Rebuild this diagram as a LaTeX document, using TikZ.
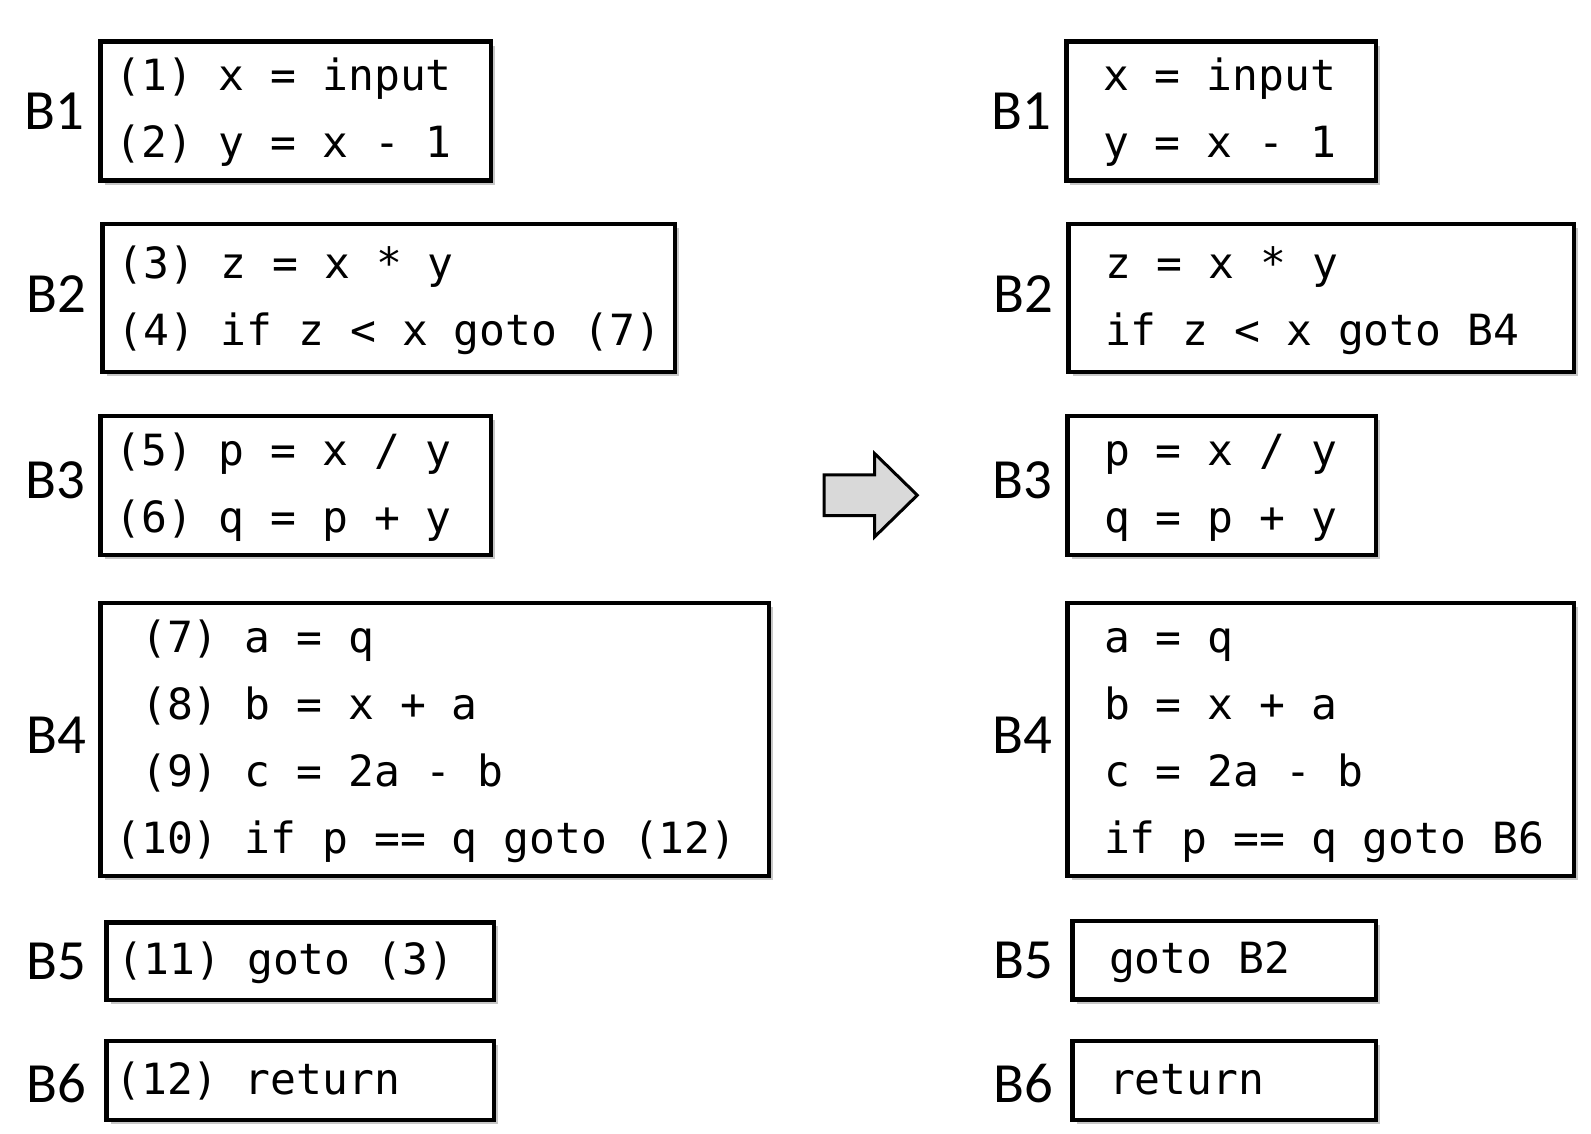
\documentclass[tikz,border=0pt]{standalone}
\usepackage{fontspec}
\setmonofont{DejaVu Sans Mono}
\newfontfamily\blockfont{Carlito}
\usetikzlibrary{positioning, shadows}
\tikzset{
x=0.5pt, y=-0.5pt, % one unit is one pixel of the layout, y grows downwards
block/.style={draw, line width=2.1pt, fill=white, anchor=north west, outer sep=0pt, inner xsep=0pt, inner ysep=0pt, align=left,
  font=\ttfamily\fontsize{21.5}{33.5}\selectfont, execute at begin node={\spaceskip=0pt\xspaceskip=0pt\strut}, execute at end node=\strut,
  drop shadow={shadow xshift=2pt, shadow yshift=-2pt, fill=black!22, opacity=1}}, % the code boxes
lcol/.style={block, execute at begin node={\leftskip=7.4pt}}, % boxes of the numbered code
rcol/.style={block, execute at begin node={\leftskip=18.3pt}}, % boxes of the rewritten code
blabel/.style={inner sep=0pt, font=\blockfont\fontsize{28.4}{34}\selectfont}, % the block names
bigarrow/.style={line width=1.5pt, fill=black!15, line join=miter}, % the arrow in the middle
}
\begin{document}
\begin{tikzpicture}
        \useasboundingbox (0,0) rectangle (1591,1134);

        % numbered three-address code
        \node[lcol, text width=195.3pt, minimum height=69.5pt] (lb1) at (100.5,41.6) {(1) x = input\\(2) y = x - 1};
        \node[lcol, text width=286.1pt, minimum height=74.1pt] (lb2) at (102.5,224.2) {(3) z = x * y\\(4) if z < x goto (7)};
        \node[lcol, text width=195.3pt, minimum height=69.5pt] (lb3) at (100.5,416) {(5) p = x / y\\(6) q = p + y};
        \node[lcol, text width=334.3pt, minimum height=136.5pt] (lb4) at (100.5,602.7) {\ (7) a = q\\\ (8) b = x + a\\\ (9) c = 2a - b\\(10) if p == q goto (12)};
        \node[lcol, text width=193.8pt, minimum height=38.6pt, execute at begin node={\leftskip=5.6pt}] (lb5) at (106.5,922.4) {(11) goto (3)};
        \node[lcol, text width=193.8pt, minimum height=39.6pt, execute at begin node={\leftskip=4.4pt}] (lb6) at (106.5,1041.1) {(12) return};

        \node[blabel, left=8pt of lb1] (ll1) {B1};
        \node[blabel, left=8pt of lb2, yshift=2pt] (ll2) {B2};
        \node[blabel, left=7.5pt of lb3, yshift=2.5pt] (ll3) {B3};
        \node[blabel, left=7pt of lb4, yshift=2pt] (ll4) {B4};
        \node[blabel, left=10pt of lb5] (ll5) {B5};
        \node[blabel, left=10pt of lb6, yshift=-1.5pt] (ll6) {B6};

        % basic blocks
        \node[rcol, text width=154.7pt, minimum height=69.5pt] (rb1) at (1066.4,41.6) {x = input\\y = x - 1};
        \node[rcol, text width=252.7pt, minimum height=74.1pt] (rb2) at (1068.5,224.2) {z = x * y\\if z < x goto B4};
        \node[rcol, text width=154.2pt, minimum height=69.5pt] (rb3) at (1067.5,416) {p = x / y\\q = p + y};
        \node[rcol, text width=253.2pt, minimum height=136.5pt] (rb4) at (1067.5,602.7) {a = q\\b = x + a\\c = 2a - b\\if p == q goto B6};
        \node[rcol, text width=151.7pt, minimum height=39.1pt] (rb5) at (1072.5,921.3) {goto B2};
        \node[rcol, text width=151.7pt, minimum height=39.6pt] (rb6) at (1072.5,1041.1) {return};

        \node[blabel, left=7.5pt of rb1] (rl1) {B1};
        \node[blabel, left=7.5pt of rb2, yshift=2pt] (rl2) {B2};
        \node[blabel, left=7.5pt of rb3, yshift=2.5pt] (rl3) {B3};
        \node[blabel, left=7.5pt of rb4, yshift=2pt] (rl4) {B4};
        \node[blabel, left=9.5pt of rb5] (rl5) {B5};
        \node[blabel, left=9.5pt of rb6, yshift=-1.5pt] (rl6) {B6};

        \draw[bigarrow] (824,474.9) -- (874.7,474.9) -- (874.7,453.6) -- (917.3,495.2) -- (874.7,536.8) -- (874.7,515.5) -- (824,515.5) -- cycle;
    \end{tikzpicture}
\end{document}
